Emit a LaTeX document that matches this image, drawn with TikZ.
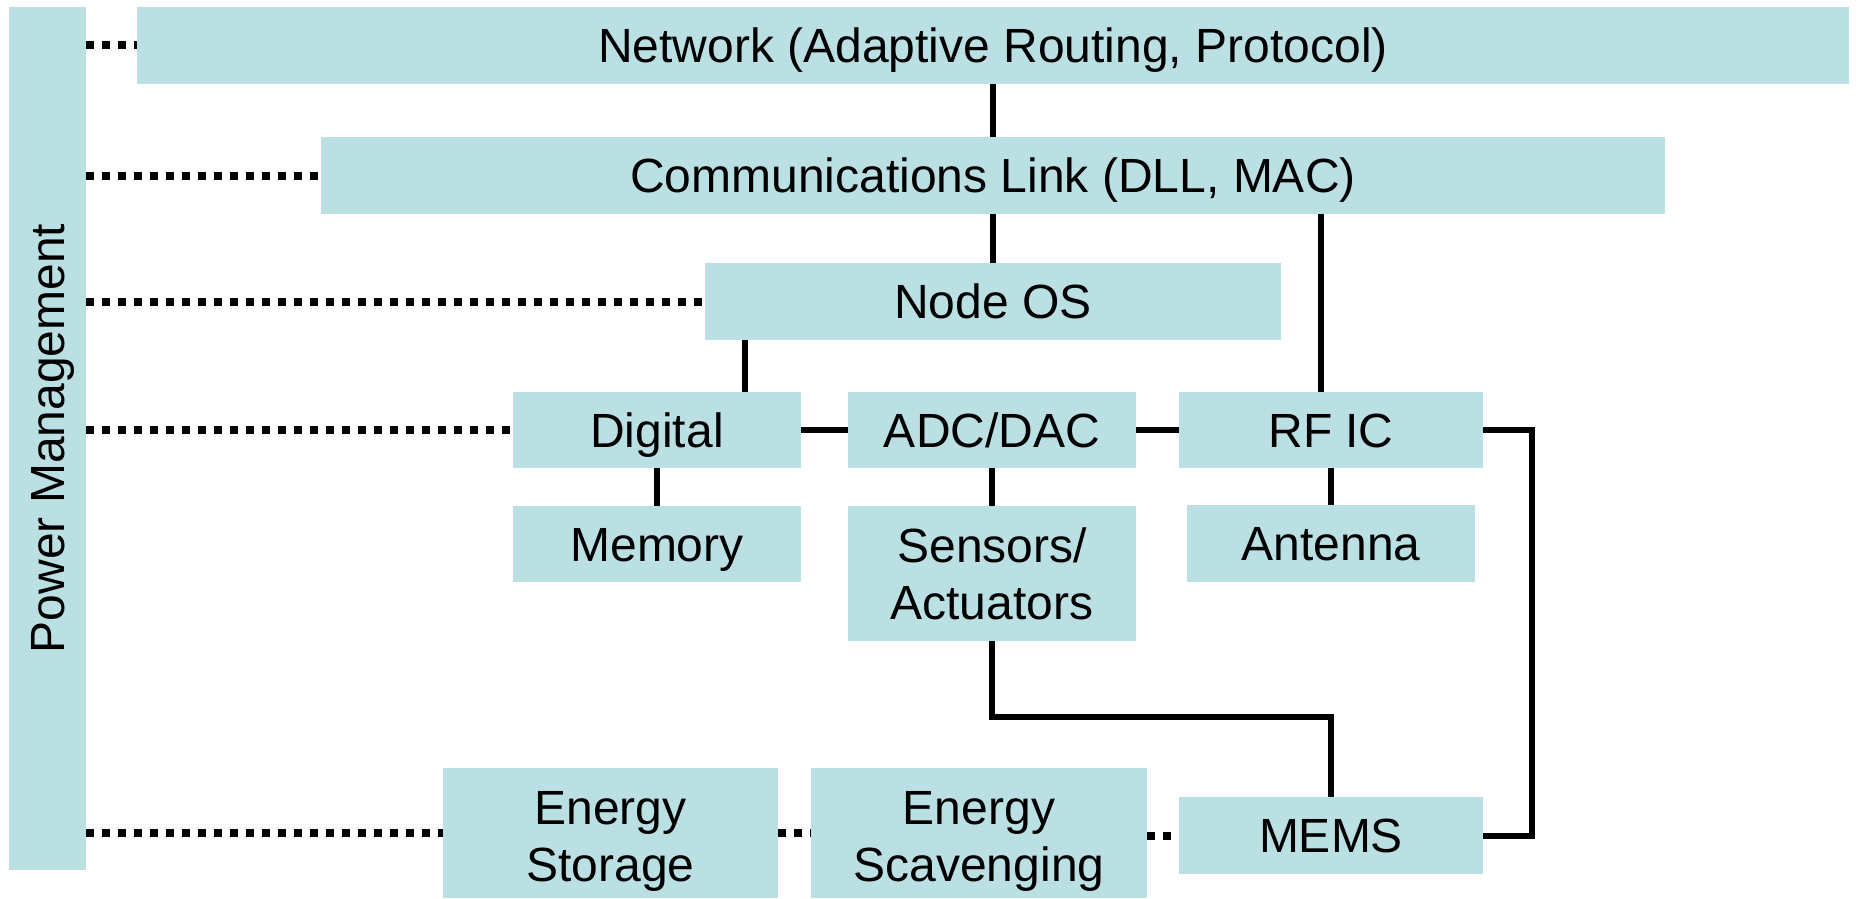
\documentclass[tikz,border=0pt]{standalone}
\usepackage{fontspec}
\setmainfont{Liberation Sans}
\usepackage{xcolor}
\usepackage{tikz}
\usetikzlibrary{positioning}
\definecolor{boxfill}{RGB}{186,224,227}

\begin{document}
\begin{tikzpicture}[x=0.5pt, y=-0.5pt, every node/.style={font=\fontsize{24}{28.5}\selectfont}, box/.style={fill=boxfill, inner sep=0pt, align=center, minimum height=38.5pt, text height=17.2pt, text depth=0pt}, twoline/.style={box, text height=, text depth=}, wire/.style={line width=3pt}, dotline/.style={line width=4pt, dash pattern=on 4pt off 4pt}]
\useasboundingbox (0,0) rectangle (1858,899);
% left bar
\node[box, rotate=90, minimum width=431.5pt] (pm) at (47.5,438.5) {Power Management};
% upper layers
\node[box, minimum width=856pt] (net) at (993,45.5) {Network (Adaptive Routing, Protocol)};
\node[box, minimum width=672pt] (comm) at (993,175.5) {Communications Link (DLL, MAC)};
\node[box, minimum width=288pt] (os) at (993,301.5) {Node OS};
% hardware row
\node[box, minimum width=144pt, minimum height=38pt] (dig) at (657,430) {Digital};
\node[box, minimum width=144pt, minimum height=38pt] (adc) at (992,430) {ADC/DAC};
\node[box, minimum width=152pt, minimum height=38pt] (rf) at (1331,430) {RF IC};
\node[box, minimum width=144pt, minimum height=38pt] (mem) at (657,544) {Memory};
\node[twoline, minimum width=144pt, minimum height=67.5pt] (sens) at (992,573.5) {Sensors/\\Actuators};
\node[box, minimum width=144pt] (ant) at (1331,543.5) {Antenna};
% energy row
\node[twoline, text height=53.8pt, minimum width=167.5pt, minimum height=65pt] (stor) at (610.5,833) {Energy\\Storage};
\node[twoline, text height=53.8pt, minimum width=168pt, minimum height=65pt] (scav) at (979,833) {Energy\\Scavenging};
\node[box, minimum width=152pt] (mems) at (1331,835.5) {MEMS};
% power management links
\draw[dotline] (pm.south |- net.west) -- (net.west);
\draw[dotline] (pm.south |- comm.west) -- (comm.west);
\draw[dotline] (pm.south |- os.west) -- (os.west);
\draw[dotline] (pm.south |- dig.west) -- (dig.west);
\draw[dotline] (pm.south |- stor.west) -- (stor.west);
\draw[dotline] (stor.east) -- (scav.west);
\draw[dotline] (scav.east |- mems.west) -- (mems.west);
% solid links
\draw[wire] (net) -- (comm);
\draw[wire] (comm) -- (os);
\draw[wire] ([xshift=-5pt]rf.north) -- ([xshift=-5pt]rf.north |- comm.south);
\draw[wire] ([xshift=44pt]dig.north) -- ([xshift=44pt]dig.north |- os.south);
\draw[wire] (dig) -- (adc);
\draw[wire] (adc) -- (rf);
\draw[wire] (dig) -- (mem);
\draw[wire] (adc) -- (sens);
\draw[wire] (rf) -- (ant);
\draw[wire] (rf.east) -- ++(24.5pt,0) |- (mems.east);
\draw[wire] (sens.south) -- ++(0,-38pt) -| (mems.north);
\end{tikzpicture}
\end{document}
